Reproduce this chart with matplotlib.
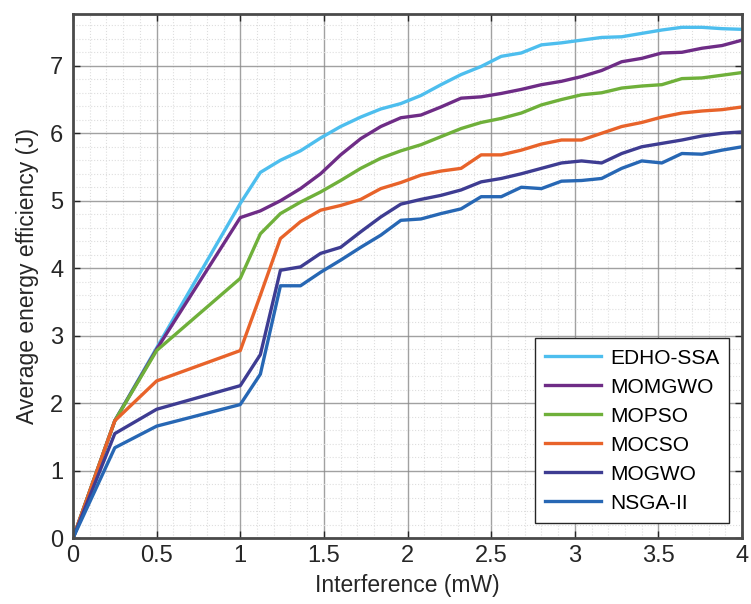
import numpy as np
import matplotlib
matplotlib.use("Agg")
import matplotlib.pyplot as plt
from matplotlib.ticker import MultipleLocator

plt.rcParams['font.family'] = ['Liberation Sans', 'DejaVu Sans']

# Interference levels (mW)
interference = [0, 0.25, 0.5, 1.0, 1.12, 1.24, 1.36, 1.48, 1.60, 1.72, 1.84, 1.96,
                2.08, 2.20, 2.32, 2.44, 2.56, 2.68, 2.80, 2.92, 3.04, 3.16, 3.28,
                3.40, 3.52, 3.64, 3.76, 3.88, 4.00]

# Average energy efficiency (J) per algorithm
edho_ssa = [0, 1.74, 2.82, 4.96, 5.42, 5.60, 5.74, 5.93, 6.10, 6.24, 6.36, 6.44,
            6.56, 6.72, 6.87, 6.99, 7.14, 7.19, 7.31, 7.34, 7.38, 7.42, 7.43,
            7.48, 7.53, 7.57, 7.57, 7.55, 7.54]
momgwo = [0, 1.74, 2.80, 4.75, 4.85, 5.00, 5.18, 5.40, 5.68, 5.92, 6.10, 6.23,
          6.27, 6.39, 6.52, 6.54, 6.59, 6.65, 6.72, 6.77, 6.84, 6.93, 7.06,
          7.11, 7.19, 7.20, 7.26, 7.30, 7.38]
mopso = [0, 1.74, 2.78, 3.85, 4.51, 4.81, 4.98, 5.13, 5.30, 5.48, 5.63, 5.74,
         5.83, 5.95, 6.07, 6.16, 6.22, 6.30, 6.42, 6.50, 6.57, 6.60, 6.67,
         6.70, 6.72, 6.81, 6.82, 6.86, 6.90]
mocso = [0, 1.74, 2.33, 2.78, 3.60, 4.44, 4.69, 4.86, 4.93, 5.02, 5.18, 5.27,
         5.38, 5.44, 5.48, 5.68, 5.68, 5.75, 5.84, 5.90, 5.90, 6.00, 6.10,
         6.16, 6.24, 6.30, 6.33, 6.35, 6.39]
mogwo = [0, 1.55, 1.91, 2.26, 2.72, 3.97, 4.02, 4.22, 4.31, 4.54, 4.76, 4.95,
         5.02, 5.08, 5.16, 5.28, 5.33, 5.40, 5.48, 5.56, 5.59, 5.56, 5.70,
         5.80, 5.85, 5.90, 5.96, 6.00, 6.02]
nsga2 = [0, 1.34, 1.66, 1.98, 2.43, 3.74, 3.74, 3.94, 4.12, 4.31, 4.49, 4.71,
         4.73, 4.81, 4.88, 5.06, 5.06, 5.20, 5.18, 5.29, 5.30, 5.33, 5.48,
         5.59, 5.56, 5.70, 5.69, 5.75, 5.80]

labels = ['EDHO-SSA', 'MOMGWO', 'MOPSO', 'MOCSO', 'MOGWO', 'NSGA-II']
series = [edho_ssa, momgwo, mopso, mocso, mogwo, nsga2]
colors = ['#4DBEEE', '#6E2C86', '#6FB03A', '#E8632A', '#3E3C92', '#2767B4']

fig = plt.figure(figsize=(7.51, 6.04), dpi=100)
ax = fig.add_axes([0.0972, 0.109, 0.891, 0.867])

for y, lab, c in zip(series, labels, colors):
    ax.plot(interference, y, color=c, lw=2.4, label=lab, solid_joinstyle='round')

ax.set_xlim(0, 4)
ax.set_ylim(0, 7.76)
ax.xaxis.set_major_locator(MultipleLocator(0.5))
ax.xaxis.set_minor_locator(MultipleLocator(0.1))
ax.yaxis.set_major_locator(MultipleLocator(1))
ax.yaxis.set_minor_locator(MultipleLocator(0.2))
ax.set_xticks([0, 0.5, 1, 1.5, 2, 2.5, 3, 3.5, 4])
ax.set_xticklabels(['0', '0.5', '1', '1.5', '2', '2.5', '3', '3.5', '4'])

ax.grid(which='major', color='#8a8a8a', lw=1.0, alpha=0.8)
ax.grid(which='minor', color='#dedede', lw=0.8, linestyle=':')
ax.set_axisbelow(True)

ax.tick_params(which='both', direction='in', top=True, right=True,
               labelsize=17, colors='#262626')
ax.tick_params(axis='y', pad=7)
ax.tick_params(axis='x', pad=5)
ax.tick_params(which='major', length=5, width=1.0)
ax.tick_params(which='minor', length=0)
for s in ax.spines.values():
    s.set_color('#4a4a4a')
    s.set_linewidth(2.0)

ax.set_xlabel('Interference (mW)', fontsize=16.5, color='#262626', labelpad=5)
ax.set_ylabel('Average energy efficiency (J)', fontsize=16.5, color='#262626', labelpad=8)

leg = ax.legend(loc='lower right', fontsize=15, frameon=True, fancybox=False,
                edgecolor='#262626', framealpha=1, handlelength=2.7,
                labelspacing=0.48, borderpad=0.5, handletextpad=0.4,
                borderaxespad=0, bbox_to_anchor=(0.981, 0.029))
leg.get_frame().set_linewidth(1.0)

fig.savefig('out.png', dpi=100)
